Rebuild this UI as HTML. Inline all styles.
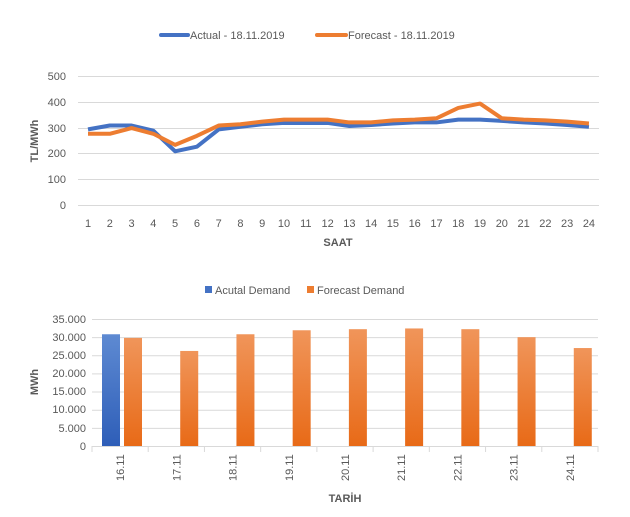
<!DOCTYPE html>
<html><head><style>
body{margin:0;background:#fff;}
svg{display:block;font-family:"Liberation Sans",sans-serif;}
</style></head><body>
<svg width="630" height="517" viewBox="0 0 630 517">
<rect width="630" height="517" fill="#fff"/>
<!-- top legend -->
<line x1="161" y1="35" x2="188" y2="35" stroke="#4472C4" stroke-width="4" stroke-linecap="round"/>
<text x="190" y="39" font-size="11" fill="#595959">Actual - 18.11.2019</text>
<line x1="317" y1="35" x2="346" y2="35" stroke="#ED7D31" stroke-width="4" stroke-linecap="round"/>
<text x="348" y="39" font-size="11" fill="#595959">Forecast - 18.11.2019</text>
<!-- top grid -->
<g stroke="#d9d9d9" stroke-width="1">
<line x1="78" y1="76.5" x2="599" y2="76.5"/><line x1="78" y1="102.5" x2="599" y2="102.5"/>
<line x1="78" y1="128.5" x2="599" y2="128.5"/><line x1="78" y1="153.5" x2="599" y2="153.5"/>
<line x1="78" y1="179.5" x2="599" y2="179.5"/><line x1="78" y1="205.5" x2="599" y2="205.5"/>
</g>
<g font-size="11" fill="#595959" text-anchor="end">
<text x="66" y="80">500</text><text x="66" y="106">400</text><text x="66" y="132">300</text>
<text x="66" y="157">200</text><text x="66" y="183">100</text><text x="66" y="209">0</text>
</g>
<text transform="translate(38,141) rotate(-90)" font-size="11" font-weight="bold" fill="#595959" text-anchor="middle">TL/MWh</text>
<g font-size="11" fill="#595959" text-anchor="middle" id="hx"></g>
<text x="338" y="246" font-size="11" font-weight="bold" fill="#595959" text-anchor="middle">SAAT</text>
<polyline id="pa" fill="none" stroke="#4472C4" stroke-width="4" stroke-linejoin="round"/>
<polyline id="pf" fill="none" stroke="#ED7D31" stroke-width="4" stroke-linejoin="round"/>
<!-- bottom legend -->
<rect x="205" y="286" width="7" height="7" fill="#4472C4"/>
<text x="215" y="294" font-size="11" fill="#595959">Acutal Demand</text>
<rect x="307" y="286" width="7" height="7" fill="#ED7D31"/>
<text x="317" y="294" font-size="11" fill="#595959">Forecast Demand</text>
<defs>
<linearGradient id="go" x1="0" y1="0" x2="0" y2="1"><stop offset="0" stop-color="#F0955A"/><stop offset="1" stop-color="#E86A17"/></linearGradient>
<linearGradient id="gb" x1="0" y1="0" x2="0" y2="1"><stop offset="0" stop-color="#5E8AD2"/><stop offset="1" stop-color="#2E5EB8"/></linearGradient>
</defs>
<g stroke="#d9d9d9" stroke-width="1" id="bg"></g>
<g id="bars"></g>
<g font-size="11" fill="#595959" text-anchor="end">
<text x="86" y="323">35.000</text><text x="86" y="341">30.000</text><text x="86" y="359">25.000</text>
<text x="86" y="377">20.000</text><text x="86" y="395">15.000</text><text x="86" y="413">10.000</text>
<text x="86" y="432">5.000</text><text x="86" y="450">0</text>
</g>
<text transform="translate(38,382) rotate(-90)" font-size="11" font-weight="bold" fill="#595959" text-anchor="middle">MWh</text>
<text x="345" y="502" font-size="11" font-weight="bold" fill="#595959" text-anchor="middle">TARİH</text>
<g id="bx" font-size="11" fill="#595959"></g>
</svg>
<script>
var ns="http://www.w3.org/2000/svg";
function el(t,a,p,tx){var e=document.createElementNS(ns,t);for(var k in a)e.setAttribute(k,a[k]);if(tx)e.textContent=tx;document.getElementById(p).appendChild(e);return e;}
var A=[295,310,310,290,210,228,295,305,315,320,320,320,308,312,318,322,322,333,333,328,322,318,312,305];
var F=[278,278,300,278,235,270,310,315,325,333,333,333,322,322,330,333,338,378,395,338,333,330,325,318];
var pa="",pf="";
for(var i=0;i<24;i++){var x=88+i*21.78;pa+=x+","+(205.5-A[i]*0.258)+" ";pf+=x+","+(205.5-F[i]*0.258)+" ";
el("text",{x:x,y:227},"hx",String(i+1));}
document.getElementById("pa").setAttribute("points",pa);
document.getElementById("pf").setAttribute("points",pf);
for(var j=0;j<7;j++){var y=319.5+j*18.14;el("line",{x1:92,y1:y,x2:598,y2:y},"bg");}
el("line",{x1:92,y1:446.5,x2:598,y2:446.5},"bg");
var D=["16.11","17.11","18.11","19.11","20.11","21.11","22.11","23.11","24.11"];
var V=[29800,26200,30800,31900,32200,32400,32200,30000,27000];
var w=(598-92)/9;
for(var k=0;k<=9;k++){el("line",{x1:92+k*w,y1:446,x2:92+k*w,y2:452},"bg");}
for(var k=0;k<9;k++){var cx=92+k*w;var h=V[k]/5000*18.14;
el("rect",{x:cx+32,y:446-h,width:18,height:h,fill:"url(#go)"},"bars");
var tx=cx+w/2+4;el("text",{transform:"translate("+tx+",481) rotate(-90)"},"bx",D[k]);}
var hb=30800/5000*18.14;el("rect",{x:102,y:446-hb,width:18,height:hb,fill:"url(#gb)"},"bars");
</script>
</body></html>
